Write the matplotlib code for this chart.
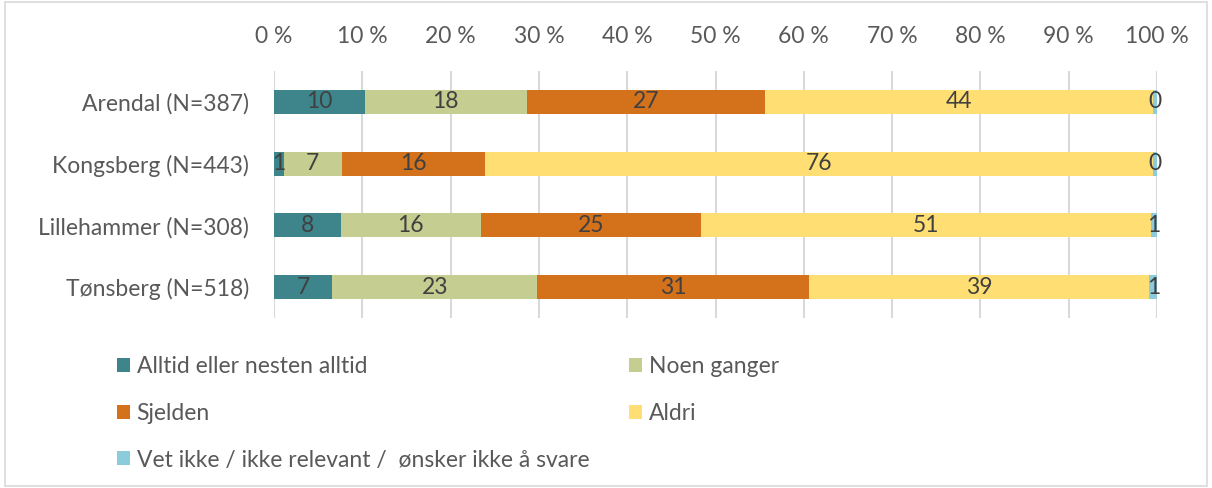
import matplotlib
matplotlib.use("Agg")
import matplotlib.pyplot as plt
from matplotlib.patches import Rectangle, Patch
import numpy as np

plt.rcParams['font.family'] = ['Lato', 'DejaVu Sans']

categories = ["Arendal (N=387)", "Kongsberg (N=443)", "Lillehammer (N=308)", "Tønsberg (N=518)"]
series_names = ["Alltid eller nesten alltid", "Noen ganger", "Sjelden", "Aldri",
                "Vet ikke / ikke relevant /  ønsker ikke å svare"]
alltid = [10.3, 1.1, 7.55, 6.6]
noen = [18.3, 6.6, 15.9, 23.2]
sjelden = [27.0, 16.2, 24.95, 30.8]
aldri = [43.95, 75.65, 50.9, 38.55]
vet_ikke = [0.45, 0.45, 0.7, 0.85]
xticks = [0, 10, 20, 30, 40, 50, 60, 70, 80, 90, 100]
xticklabels = [f"{t} %" for t in xticks]

colors = ["#3E858B", "#C6CD91", "#D4721C", "#FFDF73", "#8CCBDC"]
series = [alltid, noen, sjelden, aldri, vet_ikke]

FS = 16.5
W, H = 1212, 488
fig = plt.figure(figsize=(W / 100, H / 100), dpi=100)
ax = fig.add_axes([274 / W, 1 - 318 / H, (1157 - 274) / W, (318 - 71) / H])

y = np.arange(len(categories))
left = np.zeros(len(categories))
for vals, col, name in zip(series, colors, series_names):
    ax.barh(y, vals, left=left, height=0.39, color=col, label=name, zorder=3)
    for yi, (v, l) in enumerate(zip(vals, left)):
        ax.text(l + v / 2, yi, "%.0f" % v, ha="center", va="center",
                fontsize=FS, color="#404040", zorder=4)
    left = left + np.array(vals)

ax.set_xlim(0, 100)
ax.set_ylim(3.5, -0.5)
ax.set_yticks(y)
ax.set_yticklabels(categories, fontsize=FS, color="#595959")
ax.set_xticks(xticks)
ax.set_xticklabels(xticklabels, fontsize=FS, color="#595959")
ax.xaxis.tick_top()
ax.tick_params(axis="both", length=0)
ax.tick_params(axis="x", pad=17)
ax.tick_params(axis="y", pad=18)
ax.grid(axis="x", color="#D9D9D9", linewidth=1.5, zorder=0)
for s in ax.spines.values():
    s.set_visible(False)

order = [0, 2, 4, 1, 3]
handles = [Patch(facecolor=colors[i], edgecolor="none") for i in order]
labels = [series_names[i] for i in order]
fig.legend(handles, labels, ncol=2, loc="upper left",
           bbox_to_anchor=(108 / W, 1 - 347 / H), frameon=False,
           fontsize=FS, labelcolor="#595959", handlelength=0.55, handleheight=0.55,
           handletextpad=0.3, columnspacing=1.75, labelspacing=1.12, borderaxespad=0)

fig.patches.append(Rectangle((0.004, 0.004), 0.992, 0.992, transform=fig.transFigure,
                             fill=False, edgecolor="#D9D9D9", linewidth=1.2))

fig.savefig("out.png", dpi=100)
